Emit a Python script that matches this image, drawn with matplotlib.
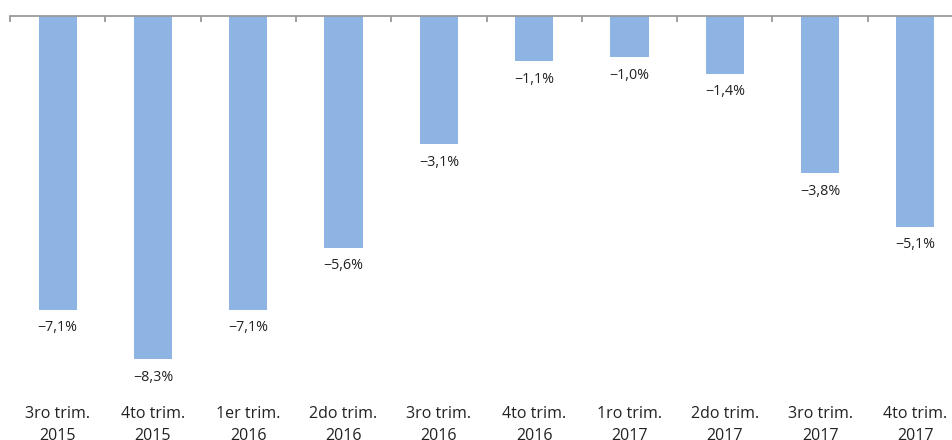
import matplotlib
matplotlib.use("Agg")
import matplotlib.pyplot as plt
import numpy as np

categories = ["3ro trim.\n2015", "4to trim.\n2015", "1er trim.\n2016", "2do trim.\n2016",
              "3ro trim.\n2016", "4to trim.\n2016", "1ro trim.\n2017", "2do trim.\n2017",
              "3ro trim.\n2017", "4to trim.\n2017"]
values = [-7.1, -8.3, -7.1, -5.6, -3.1, -1.1, -1.0, -1.4, -3.8, -5.1]
value_labels = ["−7,1%", "−8,3%", "−7,1%", "−5,6%", "−3,1%", "−1,1%", "−1,0%", "−1,4%", "−3,8%", "−5,1%"]

plt.rcParams['font.family'] = ['Open Sans', 'DejaVu Sans']

W, H = 952, 440
fig = plt.figure(figsize=(W/100, H/100), dpi=100)
left_px, top_px = 10, 16
cat_w = 95.3
n = len(categories)
px_per_unit = 41.35
bottom_px = 400
ax = fig.add_axes([left_px/W, 1 - bottom_px/H, cat_w*n/W, (bottom_px - top_px)/H])

x = np.arange(n)
ax.bar(x, values, width=0.4, color='#8EB4E3', edgecolor='none')
ax.set_xlim(-0.5, n - 0.5)
ax.set_ylim(-(bottom_px - top_px)/px_per_unit, 0)

for xi, v, lab in zip(x, values, value_labels):
    ax.annotate(lab, (xi, v), xytext=(0, -13), textcoords='offset points',
                ha='center', va='center', fontsize=10.3, color='#222222')

for s in ['left', 'right', 'bottom']:
    ax.spines[s].set_visible(False)
ax.spines['top'].set_color('#9a9a9a')
ax.spines['top'].set_linewidth(1.3)

ax.set_yticks([])
ax.set_xticks(x)
ax.set_xticklabels(categories, fontsize=11.5, color='#222222', linespacing=1.5)
ax.set_xticks(np.arange(n + 1) - 0.5, minor=True)
ax.tick_params(axis='x', which='major', length=0, pad=4.5, bottom=True, top=False)
ax.tick_params(axis='x', which='minor', length=4, width=1.3, color='#9a9a9a',
               direction='in', top=True, bottom=False)

fig.savefig('out.png', dpi=100)
